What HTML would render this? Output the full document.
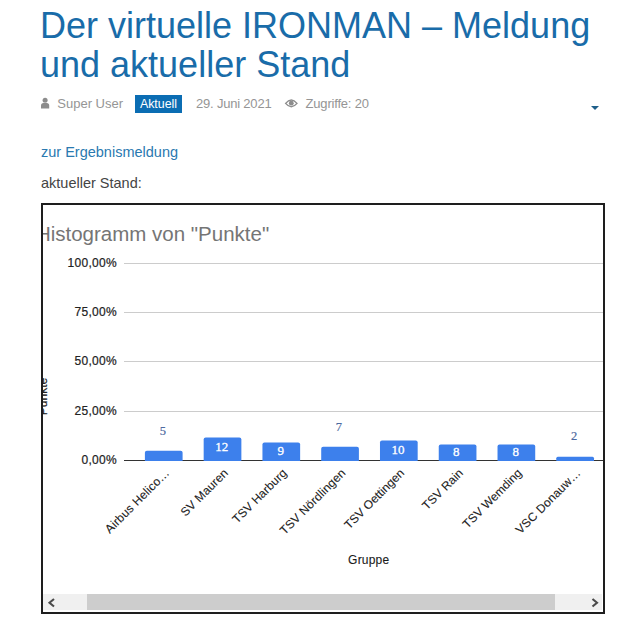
<!DOCTYPE html>
<html lang="de">
<head>
<meta charset="utf-8">
<title>Der virtuelle IRONMAN – Meldung und aktueller Stand</title>
<style>
html,body{margin:0;padding:0;background:#fff;}
body{width:640px;height:626px;overflow:hidden;position:relative;font-family:"Liberation Sans",Arial,sans-serif;}
h2{position:absolute;left:40px;top:7px;margin:0;font-weight:normal;font-size:36px;line-height:38.75px;color:#196ca9;width:580px;}
.m{position:absolute;top:95px;font-size:13px;line-height:18px;color:#959595;white-space:nowrap;}
.badge{position:absolute;left:135px;top:94.5px;width:47px;height:18px;background:#0b6db3;color:#fff;font-size:12.4px;line-height:18px;text-align:center;}
.caret{position:absolute;left:591px;top:105.5px;width:0;height:0;border-left:4px solid transparent;border-right:4px solid transparent;border-top:4px solid #1e5f8a;}
.link{position:absolute;left:41px;top:143px;font-size:14.5px;line-height:18px;color:#2a79b0;}
.stand{position:absolute;left:41px;top:173.7px;font-size:14.5px;line-height:18px;color:#444;}
.frame{position:absolute;left:41px;top:203px;width:560px;height:407px;border:2px solid #1e1e1e;background:#fff;}
.chart{position:absolute;left:0;top:0;}
.sb{position:absolute;left:43px;top:594px;width:559px;height:16px;background:#f0f0f0;}
.thumb{position:absolute;left:87px;top:594px;width:468px;height:16px;background:#cdcdcd;}
.arr{position:absolute;top:594px;width:17px;height:17px;}
</style>
</head>
<body>
<h2>Der virtuelle IRONMAN – Meldung und aktueller Stand</h2>
<svg class="chart" style="z-index:1" width="640" height="120" viewBox="0 0 640 120">
<!-- user icon -->
<circle cx="45.1" cy="100.2" r="2.5" fill="#8c8c8c"/>
<path d="M41,108.6 V105.5 Q41,103 43.5,103 H46.7 Q49.2,103 49.2,105.5 V108.6 Z" fill="#8c8c8c"/>
<!-- eye icon -->
<path d="M285.6,103.4 Q291.3,96.6 297,103.4 Q291.3,110.2 285.6,103.4 Z" fill="none" stroke="#8c8c8c" stroke-width="1.4"/>
<circle cx="291.3" cy="103.2" r="2.4" fill="#8c8c8c"/>
</svg>
<span class="m" style="left:57.3px">Super User</span>
<div class="badge">Aktuell</div>
<span class="m" style="left:196px;letter-spacing:-0.2px">29. Juni 2021</span>
<span class="m" style="left:305.6px;letter-spacing:-0.2px">Zugriffe: 20</span>
<div class="caret"></div>
<div class="link">zur Ergebnismeldung</div>
<div class="stand">aktueller Stand:</div>
<div class="frame"></div>
<svg class="chart" width="640" height="626" viewBox="0 0 640 626">
<defs><clipPath id="cp"><rect x="43" y="205" width="560" height="389"/></clipPath></defs>
<g clip-path="url(#cp)">
<text x="35.9" y="240.5" font-family="Liberation Sans, Arial, sans-serif" font-size="20.5" fill="#757575">Histogramm von "Punkte"</text>
<rect x="124" y="263" width="480" height="1" fill="#cccccc"/>
<text x="116.6" y="267.3" text-anchor="end" textLength="49" lengthAdjust="spacing" font-family="Liberation Sans, Arial, sans-serif" font-size="12" fill="#222" stroke="#222" stroke-width="0.2">100,00%</text>
<rect x="124" y="312" width="480" height="1" fill="#cccccc"/>
<text x="116.6" y="316.3" text-anchor="end" textLength="42" lengthAdjust="spacing" font-family="Liberation Sans, Arial, sans-serif" font-size="12" fill="#222" stroke="#222" stroke-width="0.2">75,00%</text>
<rect x="124" y="361" width="480" height="1" fill="#cccccc"/>
<text x="116.6" y="365.3" text-anchor="end" textLength="42" lengthAdjust="spacing" font-family="Liberation Sans, Arial, sans-serif" font-size="12" fill="#222" stroke="#222" stroke-width="0.2">50,00%</text>
<rect x="124" y="411" width="480" height="1" fill="#cccccc"/>
<text x="116.6" y="415.3" text-anchor="end" textLength="42" lengthAdjust="spacing" font-family="Liberation Sans, Arial, sans-serif" font-size="12" fill="#222" stroke="#222" stroke-width="0.2">25,00%</text>
<rect x="124" y="460" width="480" height="1" fill="#333"/>
<text x="116.6" y="464.3" text-anchor="end" textLength="35" lengthAdjust="spacing" font-family="Liberation Sans, Arial, sans-serif" font-size="12" fill="#222" stroke="#222" stroke-width="0.2">0,00%</text>
<text transform="translate(46.8,396.5) rotate(-90)" text-anchor="middle" font-family="Liberation Sans, Arial, sans-serif" font-size="12" fill="#222" stroke="#222" stroke-width="0.2">Punkte</text>
<path d="M144.90,461.0 V452.75 Q144.90,450.75 146.90,450.75 H180.60 Q182.60,450.75 182.60,452.75 V461.0 Z" fill="#3d80ec"/>
<text x="162.90" y="435.00" text-anchor="middle" font-family="Liberation Serif, Times New Roman, serif" font-size="12.5" fill="#4d6aa0" stroke="#4d6aa0" stroke-width="0.2">5</text>
<text transform="translate(169.95,473.8) rotate(-45)" text-anchor="end" textLength="85" lengthAdjust="spacing" font-family="Liberation Sans, Arial, sans-serif" font-size="12" fill="#222" stroke="#222" stroke-width="0.1">Airbus Helico…</text>
<path d="M203.67,461.0 V439.50 Q203.67,437.50 205.67,437.50 H239.37 Q241.37,437.50 241.37,439.50 V461.0 Z" fill="#3d80ec"/>
<text x="221.70" y="450.55" text-anchor="middle" font-family="Liberation Serif, Times New Roman, serif" font-size="13" fill="#fff" stroke="#fff" stroke-width="0.3">12</text>
<text transform="translate(228.72,473.8) rotate(-45)" text-anchor="end" textLength="61" lengthAdjust="spacing" font-family="Liberation Sans, Arial, sans-serif" font-size="12" fill="#222" stroke="#222" stroke-width="0.1">SV Mauren</text>
<path d="M262.44,461.0 V444.50 Q262.44,442.50 264.44,442.50 H298.14 Q300.14,442.50 300.14,444.50 V461.0 Z" fill="#3d80ec"/>
<text x="280.65" y="454.50" text-anchor="middle" font-family="Liberation Serif, Times New Roman, serif" font-size="13" fill="#fff" stroke="#fff" stroke-width="0.3">9</text>
<text transform="translate(287.49,473.8) rotate(-45)" text-anchor="end" textLength="71" lengthAdjust="spacing" font-family="Liberation Sans, Arial, sans-serif" font-size="12" fill="#222" stroke="#222" stroke-width="0.1">TSV Harburg</text>
<path d="M321.21,461.0 V448.75 Q321.21,446.75 323.21,446.75 H356.91 Q358.91,446.75 358.91,448.75 V461.0 Z" fill="#3d80ec"/>
<text x="338.75" y="430.75" text-anchor="middle" font-family="Liberation Serif, Times New Roman, serif" font-size="12.5" fill="#4d6aa0" stroke="#4d6aa0" stroke-width="0.2">7</text>
<text transform="translate(346.26,473.8) rotate(-45)" text-anchor="end" textLength="87" lengthAdjust="spacing" font-family="Liberation Sans, Arial, sans-serif" font-size="12" fill="#222" stroke="#222" stroke-width="0.1">TSV Nördlingen</text>
<path d="M379.98,461.0 V442.50 Q379.98,440.50 381.98,440.50 H415.68 Q417.68,440.50 417.68,442.50 V461.0 Z" fill="#3d80ec"/>
<text x="397.90" y="453.65" text-anchor="middle" font-family="Liberation Serif, Times New Roman, serif" font-size="13" fill="#fff" stroke="#fff" stroke-width="0.3">10</text>
<text transform="translate(405.03,473.8) rotate(-45)" text-anchor="end" textLength="79" lengthAdjust="spacing" font-family="Liberation Sans, Arial, sans-serif" font-size="12" fill="#222" stroke="#222" stroke-width="0.1">TSV Oettingen</text>
<path d="M438.75,461.0 V446.50 Q438.75,444.50 440.75,444.50 H474.45 Q476.45,444.50 476.45,446.50 V461.0 Z" fill="#3d80ec"/>
<text x="456.35" y="455.80" text-anchor="middle" font-family="Liberation Serif, Times New Roman, serif" font-size="13" fill="#fff" stroke="#fff" stroke-width="0.3">8</text>
<text transform="translate(463.80,473.8) rotate(-45)" text-anchor="end" textLength="52" lengthAdjust="spacing" font-family="Liberation Sans, Arial, sans-serif" font-size="12" fill="#222" stroke="#222" stroke-width="0.1">TSV Rain</text>
<path d="M497.52,461.0 V446.50 Q497.52,444.50 499.52,444.50 H533.22 Q535.22,444.50 535.22,446.50 V461.0 Z" fill="#3d80ec"/>
<text x="515.75" y="455.70" text-anchor="middle" font-family="Liberation Serif, Times New Roman, serif" font-size="13" fill="#fff" stroke="#fff" stroke-width="0.3">8</text>
<text transform="translate(522.57,473.8) rotate(-45)" text-anchor="end" textLength="78" lengthAdjust="spacing" font-family="Liberation Sans, Arial, sans-serif" font-size="12" fill="#222" stroke="#222" stroke-width="0.1">TSV Wemding</text>
<path d="M556.29,461.0 V458.25 Q556.29,456.75 557.79,456.75 H592.49 Q593.99,456.75 593.99,458.25 V461.0 Z" fill="#3d80ec"/>
<text x="574.10" y="440.00" text-anchor="middle" font-family="Liberation Serif, Times New Roman, serif" font-size="12.5" fill="#4d6aa0" stroke="#4d6aa0" stroke-width="0.2">2</text>
<text transform="translate(581.34,473.8) rotate(-45)" text-anchor="end" textLength="86" lengthAdjust="spacing" font-family="Liberation Sans, Arial, sans-serif" font-size="12" fill="#222" stroke="#222" stroke-width="0.1">VSC Donauw…</text>
<text x="368.6" y="564" text-anchor="middle" textLength="41" lengthAdjust="spacing" font-family="Liberation Sans, Arial, sans-serif" font-size="12" fill="#1a1a1a" stroke="#1a1a1a" stroke-width="0.1">Gruppe</text>
</g>
</svg><div class="sb"></div>
<div class="thumb"></div>
<svg class="chart" width="640" height="626" viewBox="0 0 640 626">
<path d="M54,599 L49.5,602.75 L54,606.5" fill="none" stroke="#4a4a4a" stroke-width="2.1"/>
<path d="M592.5,599 L597,602.75 L592.5,606.5" fill="none" stroke="#4a4a4a" stroke-width="2.1"/>
</svg>
</body>
</html>
